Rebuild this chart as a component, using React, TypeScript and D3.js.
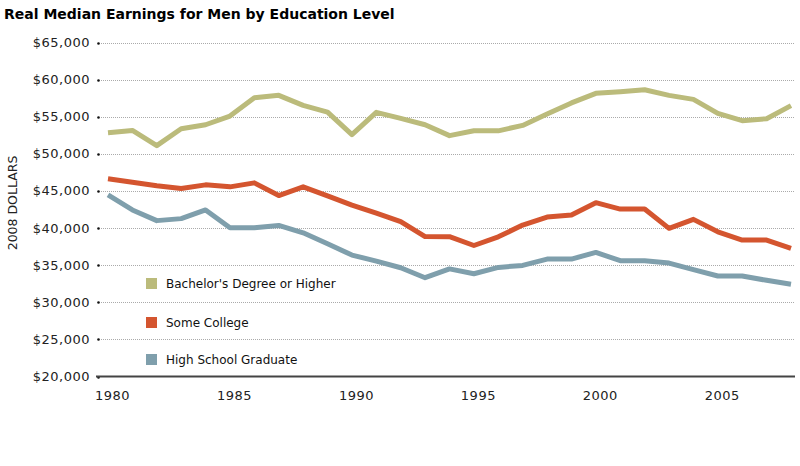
import React from "react";
import * as d3 from "d3";

const years = d3.range(1980, 2009);
const bachelors = [52850, 53150, 51100, 53380, 53920, 55090, 57560, 57880, 56530, 55630, 52580, 55590, 54780, 53920, 52450, 53100, 53100, 53830, 55360, 56860, 58150, 58370, 58640, 57880, 57340, 55450, 54460, 54730, 56500];
const someCollege = [46650, 46180, 45690, 45320, 45820, 45550, 46090, 44380, 45550, 44340, 43080, 42000, 40880, 38860, 38840, 37650, 38820, 40400, 41480, 41750, 43420, 42560, 42560, 39960, 41170, 39500, 38380, 38380, 37260];
const highSchool = [44460, 42440, 41000, 41270, 42440, 40040, 40040, 40350, 39360, 37880, 36360, 35550, 34650, 33310, 34500, 33840, 34700, 34970, 35820, 35820, 36720, 35600, 35600, 35280, 34390, 33540, 33540, 32960, 32420];
const yTicks = [20000, 25000, 30000, 35000, 40000, 45000, 50000, 55000, 60000, 65000];
const xTicks = [1980, 1985, 1990, 1995, 2000, 2005];
const seriesNames = ["Bachelor's Degree or Higher", "Some College", "High School Graduate"];
const seriesColors = ["#bbbb7b", "#d4552f", "#7f9fac"];

export default function App() {
  const x = d3.scaleLinear().domain([1980, 2008]).range([108, 791]);
  const y = d3.scaleLinear().domain([20000, 65000]).range([376.5, 42.5]);
  const line = d3
    .line<number>()
    .x((_, i) => x(years[i]))
    .y((d) => y(d));
  const series = [bachelors, someCollege, highSchool];
  const fmt = d3.format("$,");
  const legendY = [283.5, 322.5, 359.5];
  return (
    <svg
      width={800}
      height={466}
      style={{ position: "absolute", left: 0, top: 0, background: "#fff" }}
    >
      <text
        x={4}
        y={19}
        fontFamily="DejaVu Sans"
        fontWeight="bold"
        fontSize={14}
        fill="#000"
      >
        Real Median Earnings for Men by Education Level
      </text>
      {yTicks.map((t) => (
        <g key={t}>
          {t !== 20000 && (
            <line
              x1={101}
              x2={795}
              y1={Math.round(y(t)) + 0.5}
              y2={Math.round(y(t)) + 0.5}
              stroke="#aaa"
              strokeDasharray="1,1"
            />
          )}
          <circle cx={98.5} cy={Math.round(y(t)) + 0.5} r={1.3} fill="#111" />
          <text
            x={90}
            y={y(t) + 4.5}
            textAnchor="end"
            fontFamily="DejaVu Sans"
            fontSize={13}
            letterSpacing={0.5}
            fill="#222"
          >
            {fmt(t)}
          </text>
        </g>
      ))}
      <line x1={96} x2={795} y1={376.5} y2={376.5} stroke="#444" strokeWidth={2} />
      <text
        transform="translate(17,203) rotate(-90)"
        textAnchor="middle"
        fontFamily="DejaVu Sans"
        fontSize={12.5}
        fill="#222"
      >
        2008 DOLLARS
      </text>
      {xTicks.map((t) => (
        <text
          key={t}
          x={x(t) + 4.5}
          y={400}
          textAnchor="middle"
          fontFamily="DejaVu Sans"
          fontSize={13}
          letterSpacing={0.5}
          fill="#222"
        >
          {t}
        </text>
      ))}
      {series.map((s, i) => (
        <path
          key={i}
          d={line(s) || ""}
          fill="none"
          stroke={seriesColors[i]}
          strokeWidth={5}
          strokeLinejoin="round"
        />
      ))}
      {seriesNames.map((n, i) => (
        <g key={n}>
          <rect x={146} y={legendY[i] - 5.5} width={11} height={11} fill={seriesColors[i]} />
          <text
            x={166}
            y={legendY[i] + 4.5}
            fontFamily="DejaVu Sans"
            fontSize={12}
            fill="#111"
          >
            {n}
          </text>
        </g>
      ))}
    </svg>
  );
}
